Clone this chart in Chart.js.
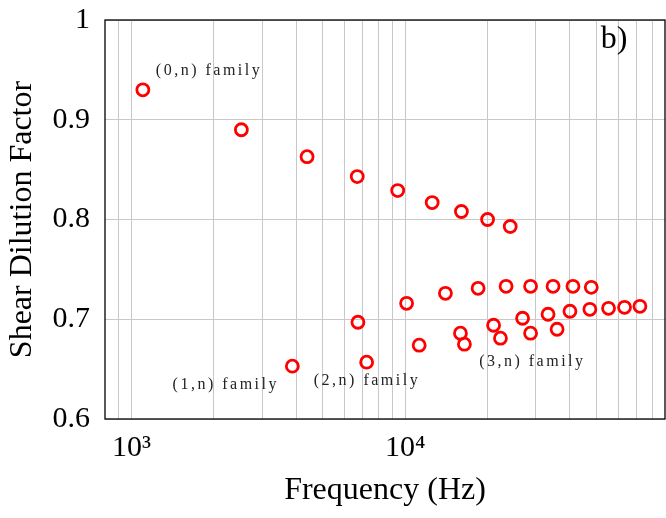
<!DOCTYPE html>
<html>
<head>
<meta charset="utf-8">
<script src="https://cdn.jsdelivr.net/npm/chart.js@4/dist/chart.umd.min.js"></script>
<style>
  html, body { margin: 0; padding: 0; background: #fff; }
  #wrap { width: 666px; height: 518px; }
</style>
</head>
<body>
<div id="wrap"><canvas id="shearChart"></canvas></div>
<script>
// (0,n) family
const family0Freq = [1100, 2520, 4380, 6680, 9390, 12550, 16050, 20000, 24200];
const family0Factor = [0.930, 0.890, 0.863, 0.843, 0.829, 0.817, 0.808, 0.800, 0.793];

// (1,n), (2,n), (3,n) families
const higherFreq = [3870, 6720, 7230, 10120, 11250, 14030, 15920, 16460, 18470, 21040,
    22290, 23370, 26850, 28720, 28720, 33270, 34700, 35900, 40000, 41030,
    47300, 47860, 55350, 63320, 72060];
const higherFactor = [0.653, 0.697, 0.657, 0.716, 0.674, 0.726, 0.686, 0.675, 0.731, 0.694,
    0.681, 0.733, 0.701, 0.686, 0.733, 0.705, 0.733, 0.690, 0.708, 0.733,
    0.710, 0.732, 0.711, 0.712, 0.713];

const xTickValues = [900, 1000, 2000, 3000, 4000, 5000, 6000, 7000, 8000, 9000,
    10000, 20000, 30000, 40000, 50000, 60000, 70000, 80000];
const xTickLabels = { 1000: "10³", 10000: "10⁴" };

const familyLabels = [
    { text: "(0,n) family", x: 1920, y: 0.949 },
    { text: "(1,n) family", x: 2210, y: 0.634 },
    { text: "(2,n) family", x: 7250, y: 0.638 },
    { text: "(3,n) family", x: 29150, y: 0.657 }
];
const panelLabel = { text: "b)", x: 58000, y: 0.980 };

const serif = "'Liberation Serif', 'Times New Roman', serif";

const points = (xs, ys) => xs.map((x, i) => ({ x: x, y: ys[i] }));

const overlay = {
    id: "overlay",
    afterDatasetsDraw(chart) {
        const c = chart.ctx;
        const a = chart.chartArea;
        const sx = chart.scales.x, sy = chart.scales.y;
        c.save();
        c.strokeStyle = "#000";
        c.lineWidth = 1.3;
        c.strokeRect(a.left, a.top, a.right - a.left, a.bottom - a.top);

        c.fillStyle = "#222";
        c.textAlign = "center";
        c.textBaseline = "middle";
        c.font = "16px " + serif;
        c.letterSpacing = "2.5px";
        familyLabels.forEach(l => {
            c.fillText(l.text, sx.getPixelForValue(l.x), sy.getPixelForValue(l.y));
        });
        c.letterSpacing = "0px";
        c.fillStyle = "#000";
        c.font = "32px " + serif;
        c.fillText(panelLabel.text, sx.getPixelForValue(panelLabel.x), sy.getPixelForValue(panelLabel.y));
        c.restore();
    }
};

new Chart(document.getElementById("shearChart"), {
    type: "scatter",
    data: {
        datasets: [
            {
                label: "(0,n) family",
                data: points(family0Freq, family0Factor),
                borderColor: "#ff0000",
                backgroundColor: "rgba(255,255,255,0)",
                borderWidth: 2.8,
                pointRadius: 6
            },
            {
                label: "higher families",
                data: points(higherFreq, higherFactor),
                borderColor: "#ff0000",
                backgroundColor: "rgba(255,255,255,0)",
                borderWidth: 2.8,
                pointRadius: 6
            }
        ]
    },
    options: {
        responsive: true,
        maintainAspectRatio: false,
        animation: false,
        layout: { autoPadding: false, padding: { top: 20, right: 1, left: 0, bottom: 0 } },
        plugins: {
            legend: { display: false },
            tooltip: { enabled: false }
        },
        scales: {
            x: {
                type: "logarithmic",
                min: 800,
                max: 89000,
                afterBuildTicks: axis => {
                    axis.ticks = xTickValues.map(v => ({ value: v }));
                },
                afterFit: axis => {
                    axis.height = 99;
                    axis.paddingLeft = 0;
                    axis.paddingRight = 0;
                },
                grid: { color: "#c8c8c8", lineWidth: 1, drawTicks: false },
                border: { display: false },
                ticks: {
                    autoSkip: false,
                    maxRotation: 0,
                    padding: 11,
                    color: "#000",
                    font: { family: serif, size: 30 },
                    callback: v => xTickLabels[v] || ""
                },
                title: {
                    display: true,
                    text: "Frequency (Hz)",
                    color: "#000",
                    font: { family: serif, size: 32 },
                    padding: { top: 0, bottom: 8 }
                }
            },
            y: {
                min: 0.6,
                max: 1,
                afterFit: axis => {
                    axis.width = 105;
                    axis.paddingTop = 0;
                    axis.paddingBottom = 0;
                },
                grid: { color: "#c8c8c8", lineWidth: 1, drawTicks: false },
                border: { display: false },
                ticks: {
                    stepSize: 0.1,
                    padding: 15,
                    color: "#000",
                    font: { family: serif, size: 30 },
                    callback: v => String(+v.toFixed(1))
                },
                title: {
                    display: true,
                    text: "Shear Dilution Factor",
                    color: "#000",
                    font: { family: serif, size: 32 },
                    padding: { top: 3, bottom: 0 }
                }
            }
        }
    },
    plugins: [overlay]
});
</script>
</body>
</html>
